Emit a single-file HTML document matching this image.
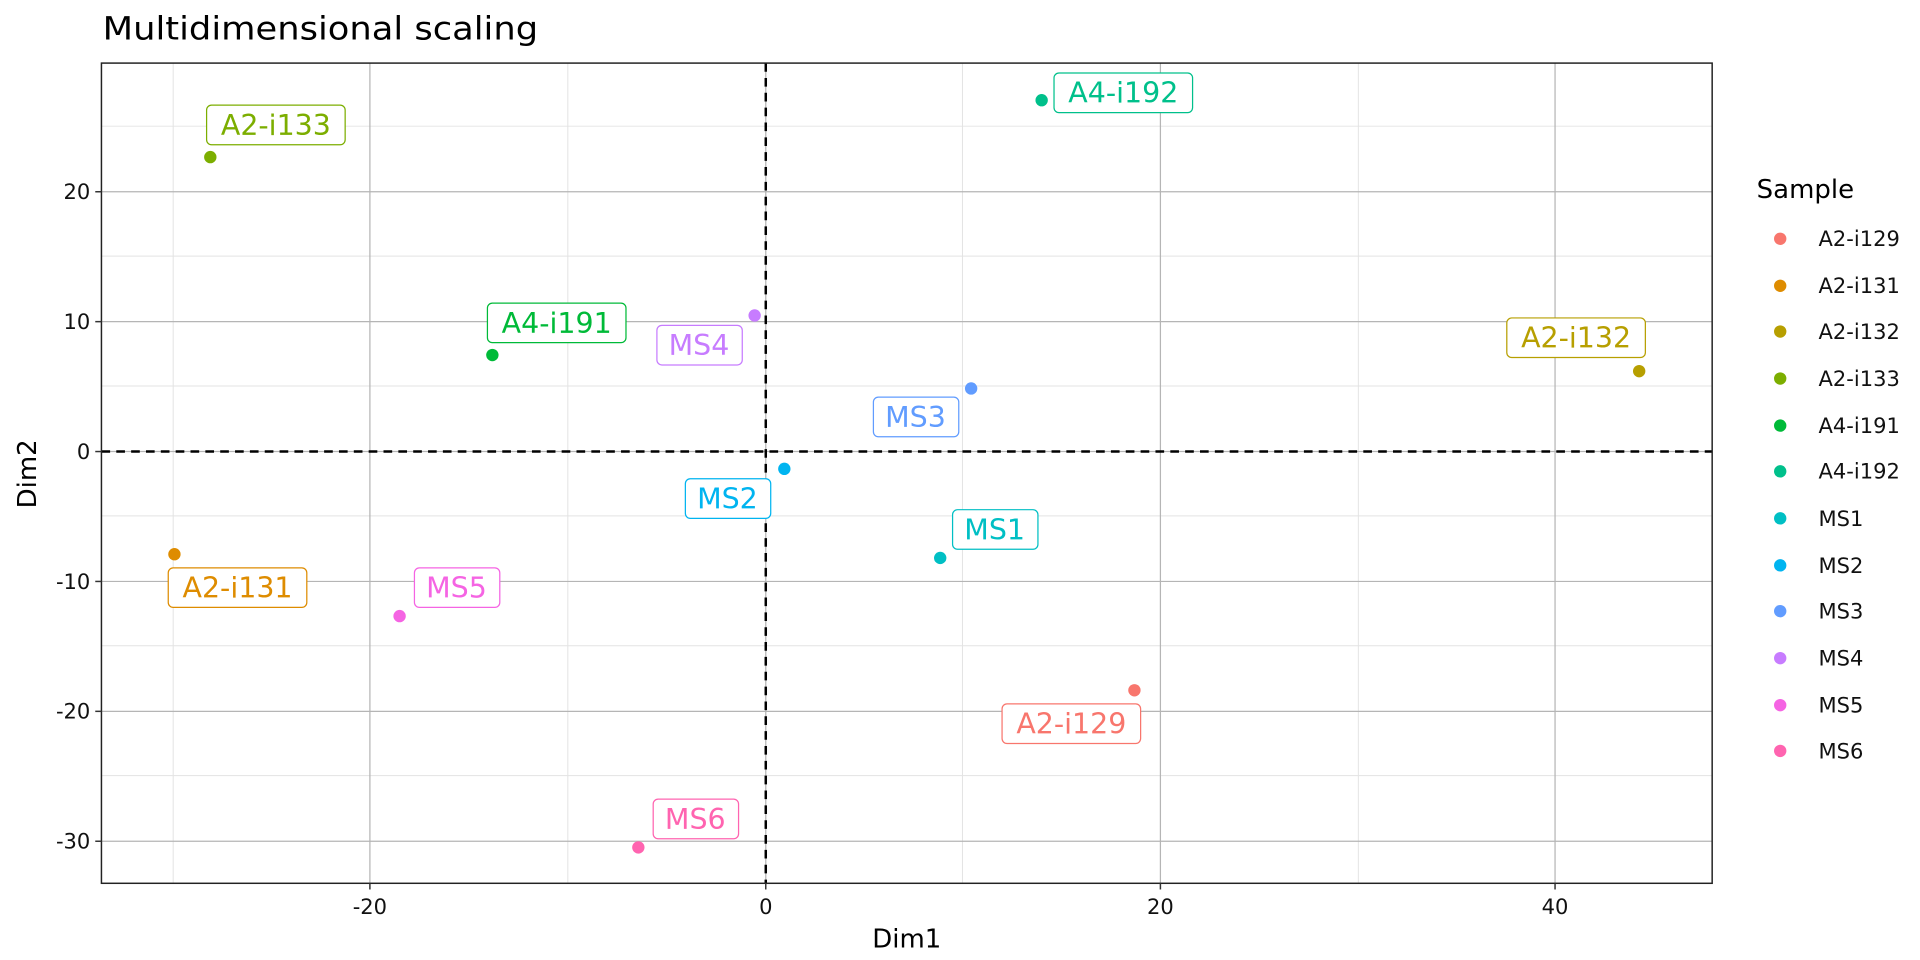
<!DOCTYPE html>
<html><head><meta charset="utf-8"><style>html,body{margin:0;padding:0;background:#fff}svg{display:block}</style></head>
<body>
<svg width="1920" height="960" viewBox="0 0 1552 776" preserveAspectRatio="none" font-family="'DejaVu Sans','Liberation Sans',sans-serif">
<rect width="1552" height="776" fill="#fff"/>
<text x="83" y="32" font-size="26" fill="#000" textLength="352" lengthAdjust="spacingAndGlyphs">Multidimensional scaling</text>
<g stroke="#e3e3e3" stroke-width="0.8">
<line x1="140" y1="51" x2="140" y2="714"/><line x1="459" y1="51" x2="459" y2="714"/><line x1="778" y1="51" x2="778" y2="714"/><line x1="1098" y1="51" x2="1098" y2="714"/>
<line x1="82" y1="102" x2="1384" y2="102"/><line x1="82" y1="207" x2="1384" y2="207"/><line x1="82" y1="312" x2="1384" y2="312"/><line x1="82" y1="417" x2="1384" y2="417"/><line x1="82" y1="522" x2="1384" y2="522"/><line x1="82" y1="627" x2="1384" y2="627"/>
</g>
<g stroke="#b5b5b5" stroke-width="1">
<line x1="299" y1="51" x2="299" y2="714"/><line x1="619" y1="51" x2="619" y2="714"/><line x1="938" y1="51" x2="938" y2="714"/><line x1="1257" y1="51" x2="1257" y2="714"/>
<line x1="82" y1="155" x2="1384" y2="155"/><line x1="82" y1="260" x2="1384" y2="260"/><line x1="82" y1="365" x2="1384" y2="365"/><line x1="82" y1="470" x2="1384" y2="470"/><line x1="82" y1="575" x2="1384" y2="575"/><line x1="82" y1="680" x2="1384" y2="680"/>
</g>
<g stroke="#000" stroke-width="2" stroke-dasharray="7,5">
<line x1="619" y1="51" x2="619" y2="714"/><line x1="82" y1="365" x2="1384" y2="365"/>
</g>
<rect x="82" y="51" width="1302" height="663" fill="none" stroke="#222" stroke-width="1.2"/>
<g stroke="#333" stroke-width="1.2">
<line x1="299" y1="714" x2="299" y2="719"/><line x1="619" y1="714" x2="619" y2="719"/><line x1="938" y1="714" x2="938" y2="719"/><line x1="1257" y1="714" x2="1257" y2="719"/>
<line x1="77" y1="155" x2="82" y2="155"/><line x1="77" y1="260" x2="82" y2="260"/><line x1="77" y1="365" x2="82" y2="365"/><line x1="77" y1="470" x2="82" y2="470"/><line x1="77" y1="575" x2="82" y2="575"/><line x1="77" y1="680" x2="82" y2="680"/>
</g>
<g font-size="17" fill="#111" text-anchor="middle">
<text x="299" y="739">-20</text><text x="619" y="739">0</text><text x="938" y="739">20</text><text x="1257" y="739">40</text>
</g>
<g font-size="17" fill="#111" text-anchor="end">
<text x="73" y="161">20</text><text x="73" y="266">10</text><text x="73" y="371">0</text><text x="73" y="476">-10</text><text x="73" y="581">-20</text><text x="73" y="686">-30</text>
</g>
<text x="733" y="766" font-size="21" text-anchor="middle">Dim1</text>
<text transform="translate(29,383) rotate(-90)" font-size="21" text-anchor="middle">Dim2</text>
<g font-size="23" text-anchor="middle">
<g fill="#F8766D" stroke="#F8766D"><circle cx="917" cy="558" r="5" stroke="none"/><rect x="810" y="569" width="112" height="32" rx="4" fill="#fff" stroke-width="1"/><text x="866" y="593" stroke="none">A2-i129</text></g>
<g fill="#DE8C00" stroke="#DE8C00"><circle cx="141" cy="448" r="5" stroke="none"/><rect x="136" y="459" width="112" height="32" rx="4" fill="#fff" stroke-width="1"/><text x="192" y="483" stroke="none">A2-i131</text></g>
<g fill="#B79F00" stroke="#B79F00"><circle cx="1325" cy="300" r="5" stroke="none"/><rect x="1218" y="257" width="112" height="32" rx="4" fill="#fff" stroke-width="1"/><text x="1274" y="281" stroke="none">A2-i132</text></g>
<g fill="#7CAE00" stroke="#7CAE00"><circle cx="170" cy="127" r="5" stroke="none"/><rect x="167" y="85" width="112" height="32" rx="4" fill="#fff" stroke-width="1"/><text x="223" y="109" stroke="none">A2-i133</text></g>
<g fill="#00BA38" stroke="#00BA38"><circle cx="398" cy="287" r="5" stroke="none"/><rect x="394" y="245" width="112" height="32" rx="4" fill="#fff" stroke-width="1"/><text x="450" y="269" stroke="none">A4-i191</text></g>
<g fill="#00C08B" stroke="#00C08B"><circle cx="842" cy="81" r="5" stroke="none"/><rect x="852" y="59" width="112" height="32" rx="4" fill="#fff" stroke-width="1"/><text x="908" y="83" stroke="none">A4-i192</text></g>
<g fill="#00BFC4" stroke="#00BFC4"><circle cx="760" cy="451" r="5" stroke="none"/><rect x="770" y="412" width="69" height="32" rx="4" fill="#fff" stroke-width="1"/><text x="804" y="436" stroke="none">MS1</text></g>
<g fill="#00B4F0" stroke="#00B4F0"><circle cx="634" cy="379" r="5" stroke="none"/><rect x="554" y="387" width="69" height="32" rx="4" fill="#fff" stroke-width="1"/><text x="588" y="411" stroke="none">MS2</text></g>
<g fill="#619CFF" stroke="#619CFF"><circle cx="785" cy="314" r="5" stroke="none"/><rect x="706" y="321" width="69" height="32" rx="4" fill="#fff" stroke-width="1"/><text x="740" y="345" stroke="none">MS3</text></g>
<g fill="#C77CFF" stroke="#C77CFF"><circle cx="610" cy="255" r="5" stroke="none"/><rect x="531" y="263" width="69" height="32" rx="4" fill="#fff" stroke-width="1"/><text x="565" y="287" stroke="none">MS4</text></g>
<g fill="#F564E3" stroke="#F564E3"><circle cx="323" cy="498" r="5" stroke="none"/><rect x="335" y="459" width="69" height="32" rx="4" fill="#fff" stroke-width="1"/><text x="369" y="483" stroke="none">MS5</text></g>
<g fill="#FF64B0" stroke="#FF64B0"><circle cx="516" cy="685" r="5" stroke="none"/><rect x="528" y="646" width="69" height="32" rx="4" fill="#fff" stroke-width="1"/><text x="562" y="670" stroke="none">MS6</text></g>
</g>
<text x="1420" y="160" font-size="21">Sample</text>
<g font-size="17" fill="#111">
<circle cx="1439" cy="193" r="5" fill="#F8766D"/><text x="1470" y="199">A2-i129</text>
<circle cx="1439" cy="231" r="5" fill="#DE8C00"/><text x="1470" y="237">A2-i131</text>
<circle cx="1439" cy="268" r="5" fill="#B79F00"/><text x="1470" y="274">A2-i132</text>
<circle cx="1439" cy="306" r="5" fill="#7CAE00"/><text x="1470" y="312">A2-i133</text>
<circle cx="1439" cy="344" r="5" fill="#00BA38"/><text x="1470" y="350">A4-i191</text>
<circle cx="1439" cy="381" r="5" fill="#00C08B"/><text x="1470" y="387">A4-i192</text>
<circle cx="1439" cy="419" r="5" fill="#00BFC4"/><text x="1470" y="425">MS1</text>
<circle cx="1439" cy="457" r="5" fill="#00B4F0"/><text x="1470" y="463">MS2</text>
<circle cx="1439" cy="494" r="5" fill="#619CFF"/><text x="1470" y="500">MS3</text>
<circle cx="1439" cy="532" r="5" fill="#C77CFF"/><text x="1470" y="538">MS4</text>
<circle cx="1439" cy="570" r="5" fill="#F564E3"/><text x="1470" y="576">MS5</text>
<circle cx="1439" cy="607" r="5" fill="#FF64B0"/><text x="1470" y="613">MS6</text>
</g>
</svg>
</body></html>
